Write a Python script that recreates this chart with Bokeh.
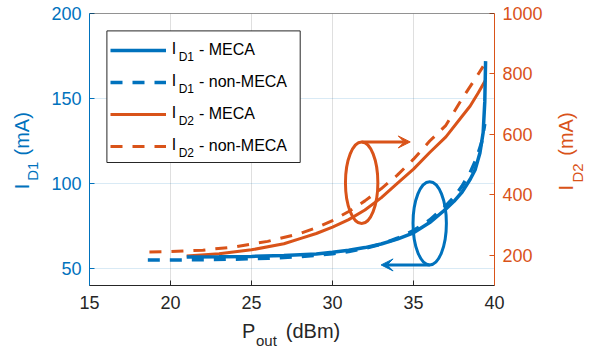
from math import pi
from bokeh.plotting import figure
from bokeh.models import (Range1d, LinearAxis, FixedTicker, Legend, LegendItem,
                          Label, Arrow, VeeHead, Span, BoxAnnotation)
from bokeh.embed import file_html
from bokeh.resources import INLINE

# ---------------- data ----------------
pout_d1_meca = [21, 23, 25, 27, 29, 30, 31, 32, 33, 34, 35, 36, 37, 37.5, 38, 38.5, 38.8, 39.1, 39.3, 39.4, 39.45]
id1_meca = [56.8, 56.9, 57.1, 57.6, 58.5, 59.5, 60.7, 62.3, 64.4, 67.3, 71.0, 77.0, 85.0, 89.5, 95.0, 102.5, 108, 118, 130, 148, 172]

pout_d1_non = [18.6, 20, 22, 24, 26, 28, 30, 31, 32, 33, 34, 35, 36, 37, 37.5, 38, 38.5, 38.9, 39.2, 39.4]
id1_non = [55.0, 55.0, 55.2, 55.5, 56.0, 57.0, 58.7, 60.0, 61.8, 64.3, 67.8, 72.3, 78.5, 87.0, 92.0, 98.5, 106.5, 115, 124, 135]

pout_d2_meca = [21, 23, 25, 27, 28, 29, 30, 31, 32, 33, 34, 35, 36, 37, 38, 38.5, 39, 39.45]
id2_meca = [198, 205, 218, 238, 255, 272, 293, 318, 350, 390, 438, 485, 540, 592, 660, 694, 738, 780]

pout_d2_non = [18.7, 20, 22, 24, 26, 28, 29, 30, 31, 32, 33, 34, 35, 36, 37, 38, 38.7, 39.3]
id2_non = [211, 212, 217, 228, 246, 272, 291, 315, 345, 380, 420, 465, 518, 578, 630, 718, 775, 825]

x_ticks = [15, 20, 25, 30, 35, 40]
y1_ticks = [50, 100, 150, 200]
y2_ticks = [200, 400, 600, 800, 1000]

# ellipse call-outs: orange (right axis), blue (left axis)
ell_d2_x, ell_d2_y, ell_d2_w, ell_d2_h, arrow_d2_end = 31.8, 440, 2.0, 270, 34.8
ell_d1_x, ell_d1_y, ell_d1_w, ell_d1_h, arrow_d1_end = 36.0, 76.6, 2.06, 49, 33.0

legend_names = [("I", "D1", "- MECA"), ("I", "D1", "- non-MECA"),
                ("I", "D2", "- MECA"), ("I", "D2", "- non-MECA")]

# axis titles: (position along the axis in that axis' data units: text)
xlabel_main = {24.82: "P", 28.80: "(dBm)"}
xlabel_sub = {25.92: "out"}
y1label_main = {98.2: "I", 129.2: "(mA)"}
y1label_sub = {107.2: "D1"}
y2label_main = {414.4: "I", 529.5: "(mA)"}
y2label_sub = {440.8: "D2"}

BLUE = "#0072BD"
ORANGE = "#D95319"
DARK = "#262626"
FONT = "Liberation Sans"

p = figure(width=597, height=351, output_backend="svg", toolbar_location=None,
           title=None, x_range=Range1d(15, 40), y_range=Range1d(40, 200),
           min_border_left=89, min_border_right=95, min_border_top=13, min_border_bottom=65)
p.extra_y_ranges = {"right": Range1d(100, 1000)}
p.outline_line_color = None
p.background_fill_color = "white"

ax_x = p.xaxis[0]
ax_y1 = p.yaxis[0]
ax_y2 = LinearAxis(y_range_name="right")
p.add_layout(ax_y2, "right")
ax_x.ticker = FixedTicker(ticks=x_ticks)
ax_y1.ticker = FixedTicker(ticks=y1_ticks)
ax_y2.ticker = FixedTicker(ticks=y2_ticks)

for ax, col in [(ax_x, DARK), (ax_y1, BLUE), (ax_y2, ORANGE)]:
    ax.major_tick_in = 5
    ax.major_tick_out = 0
    ax.minor_tick_line_color = None
    ax.axis_line_color = col
    ax.major_tick_line_color = col
    ax.major_label_text_color = col
    ax.major_label_text_font = FONT
    ax.major_label_text_font_size = "18px"
    ax.major_label_standoff = 8
ax_x.major_label_standoff = 10


def title_axis(side, labels, size, color, standoff, orientation):
    kw = {"y_range_name": "right"} if side == "right" else {}
    ax = LinearAxis(**kw)
    ax.ticker = FixedTicker(ticks=list(labels.keys()))
    ax.major_label_overrides = dict(labels)
    ax.axis_line_color = None
    ax.major_tick_line_color = None
    ax.minor_tick_line_color = None
    ax.major_tick_in = 0
    ax.major_tick_out = 0
    ax.major_label_text_font = FONT
    ax.major_label_text_font_size = f"{size}px"
    ax.major_label_text_color = color
    ax.major_label_standoff = standoff
    ax.major_label_orientation = orientation
    p.add_layout(ax, side)


title_axis("below", xlabel_main, 20, DARK, 8, "horizontal")
title_axis("below", xlabel_sub, 15, DARK, -13, "horizontal")
title_axis("left", y1label_sub, 15, BLUE, 7, "vertical")
title_axis("left", y1label_main, 20, BLUE, -12, "vertical")
title_axis("right", y2label_main, 20, ORANGE, 21, pi / 2)
title_axis("right", y2label_sub, 15, ORANGE, -14, pi / 2)

p.xgrid.grid_line_color = DARK
p.xgrid.grid_line_alpha = 0.15
p.ygrid.grid_line_color = BLUE
p.ygrid.grid_line_alpha = 0.15

p.add_layout(Span(location=200, dimension="width", line_color=DARK, line_width=1))

r4 = p.line(pout_d2_non, id2_non, y_range_name="right", line_color=ORANGE, line_width=3, line_dash="12 10")
r3 = p.line(pout_d2_meca, id2_meca, y_range_name="right", line_color=ORANGE, line_width=3)
r2 = p.line(pout_d1_non, id1_non, line_color=BLUE, line_width=3.5, line_dash="12 10")
r1 = p.line(pout_d1_meca, id1_meca, line_color=BLUE, line_width=3.5)

p.ellipse(x=[ell_d2_x], y=[ell_d2_y], width=[ell_d2_w], height=[ell_d2_h], y_range_name="right",
          fill_color=None, line_color=ORANGE, line_width=3)
p.ellipse(x=[ell_d1_x], y=[ell_d1_y], width=[ell_d1_w], height=[ell_d1_h],
          fill_color=None, line_color=BLUE, line_width=3)

p.add_layout(Arrow(x_start=ell_d2_x, y_start=ell_d2_y + ell_d2_h / 2, x_end=arrow_d2_end,
                   y_end=ell_d2_y + ell_d2_h / 2, y_range_name="right", line_color=ORANGE, line_width=3,
                   end=VeeHead(size=12, fill_color=ORANGE, line_color=ORANGE, line_width=1)))
p.add_layout(Arrow(x_start=ell_d1_x, y_start=ell_d1_y - ell_d1_h / 2, x_end=arrow_d1_end,
                   y_end=ell_d1_y - ell_d1_h / 2, line_color=BLUE, line_width=3,
                   end=VeeHead(size=12, fill_color=BLUE, line_color=BLUE, line_width=1)))

# legend box (white, opaque), texts with subscripts, then the legend itself on top
p.add_layout(BoxAnnotation(left=17.4, right=210.7, bottom=123, top=254.6,
                           left_units="screen", right_units="screen",
                           bottom_units="screen", top_units="screen",
                           fill_color="white", fill_alpha=1.0,
                           line_color=DARK, line_width=1, line_alpha=1.0))

for i, (main, sub, rest) in enumerate(legend_names):
    c = 286.3 - (49.3 + 32 * i)
    p.add_layout(Label(x=82.2, y=c, x_units="screen", y_units="screen", text=main,
                       text_font=FONT, text_font_size="16px", text_color="black",
                       text_baseline="middle", text_align="left"))
    p.add_layout(Label(x=89.2, y=c - 8.0, x_units="screen", y_units="screen", text=sub,
                       text_font=FONT, text_font_size="12px", text_color="black",
                       text_baseline="middle", text_align="left"))

legend = Legend(items=[LegendItem(label=n[2], renderers=[r])
                       for n, r in zip(legend_names, (r1, r2, r3, r4))],
                location=(21, 123), glyph_width=56, glyph_height=32, label_height=32,
                label_width=90, label_standoff=33, padding=2, spacing=0, margin=0,
                border_line_color=None, background_fill_alpha=0,
                label_text_font=FONT, label_text_font_size="16px", label_text_color="black")
p.add_layout(legend)

open("out.html", "w").write(file_html(p, INLINE))
